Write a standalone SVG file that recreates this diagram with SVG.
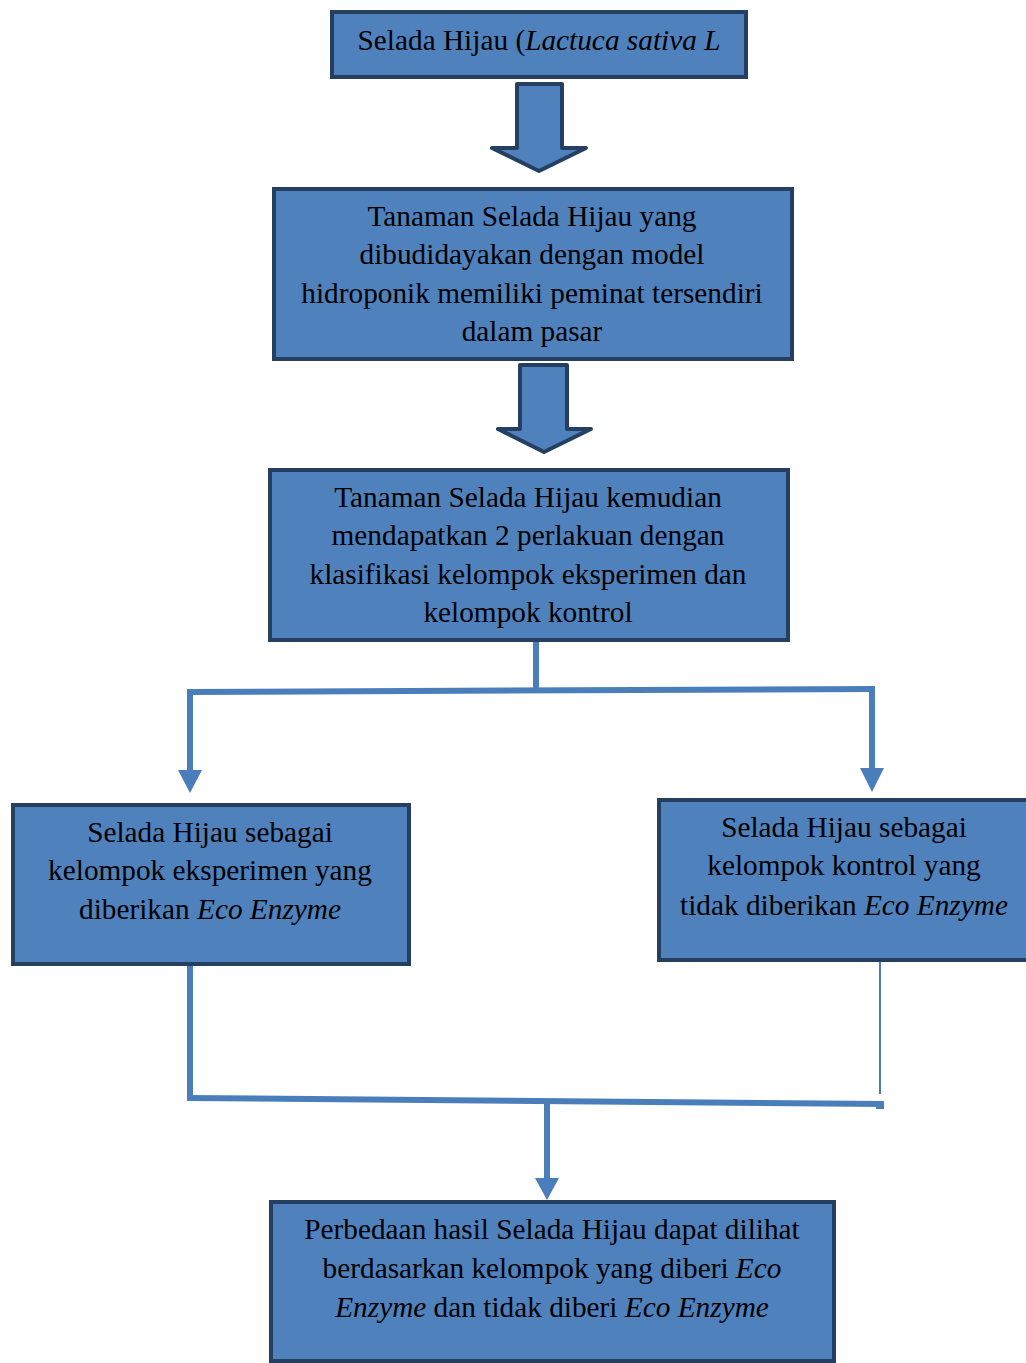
<svg xmlns="http://www.w3.org/2000/svg" width="1026" height="1363" viewBox="0 0 1026 1363">
<style>
.box{fill:#4f81bd;stroke:#243f60;stroke-width:4}
.blk{fill:#4f81bd;stroke:#243f60;stroke-width:4;stroke-linejoin:round}
.t{font-family:"Liberation Serif","Times New Roman",serif;font-size:29.3px;fill:#000;text-anchor:middle}
.i{font-style:italic}
.ln{stroke:#4a7ebb;stroke-width:6;fill:none}
.hd{fill:#4a7ebb}
</style>
<rect width="1026" height="1363" fill="#fff"/>
<g id="n1">
<rect class="box" x="332" y="12" width="414" height="65"/>
<text class="t" x="539" y="50">Selada Hijau (<tspan class="i">Lactuca sativa L</tspan></text>
</g>
<g id="a1">
<path class="blk" d="M517,84 H562 V148 H586 L539,171 L492,148 H517 Z"/>
</g>
<g id="n2">
<rect class="box" x="274" y="189" width="518" height="170"/>
<text class="t" x="532" y="226">Tanaman Selada Hijau yang</text>
<text class="t" x="532" y="264">dibudidayakan dengan model</text>
<text class="t" x="532" y="303">hidroponik memiliki peminat tersendiri</text>
<text class="t" x="532" y="341">dalam pasar</text>
</g>
<g id="a2">
<path class="blk" d="M520,365 H567 V429 H591 L544,452 L498,429 H520 Z"/>
</g>
<g id="n3">
<rect class="box" x="270" y="470" width="518" height="170"/>
<text class="t" x="528" y="507">Tanaman Selada Hijau kemudian</text>
<text class="t" x="528" y="545">mendapatkan 2 perlakuan dengan</text>
<text class="t" x="528" y="584">klasifikasi kelompok eksperimen dan</text>
<text class="t" x="528" y="622">kelompok kontrol</text>
</g>
<g id="n4">
<rect class="box" x="13" y="805" width="396" height="159"/>
<text class="t" x="210" y="842">Selada Hijau sebagai</text>
<text class="t" x="210" y="880">kelompok eksperimen yang</text>
<text class="t" x="210" y="919">diberikan <tspan class="i">Eco Enzyme</tspan></text>
</g>
<g id="n5">
<rect class="box" x="659" y="800" width="372" height="160"/>
<text class="t" x="844" y="837">Selada Hijau sebagai</text>
<text class="t" x="844" y="875">kelompok kontrol yang</text>
<text class="t" x="844" y="915">tidak diberikan <tspan class="i">Eco Enzyme</tspan></text>
</g>
<g id="n6">
<rect class="box" x="271" y="1202" width="563" height="159"/>
<text class="t" x="552" y="1239">Perbedaan hasil Selada Hijau dapat dilihat</text>
<text class="t" x="552" y="1278">berdasarkan kelompok yang diberi <tspan class="i">Eco</tspan></text>
<text class="t" x="552" y="1317"><tspan class="i">Enzyme</tspan> dan tidak diberi <tspan class="i">Eco Enzyme</tspan></text>
</g>
<g id="connectors">
<path class="ln" d="M536,642 V690"/>
<path class="ln" d="M187,692 L875,689"/>
<path class="ln" d="M190,692 V770"/>
<path class="hd" d="M178,770 H202 L190,793 Z"/>
<path class="ln" d="M872,689 V768"/>
<path class="hd" d="M860,768 H884 L872,792 Z"/>
<path class="ln" d="M190,966 V1098"/>
<path d="M880,962 V1094" stroke="#4a7ebb" stroke-width="2" fill="none"/>
<path class="ln" d="M187,1098 L884,1104"/>
<path d="M876,1108 H884" stroke="#4a7ebb" stroke-width="2"/>
<path class="ln" d="M547,1101 V1178"/>
<path class="hd" d="M535,1178 H559 L547,1200 Z"/>
</g>
</svg>
